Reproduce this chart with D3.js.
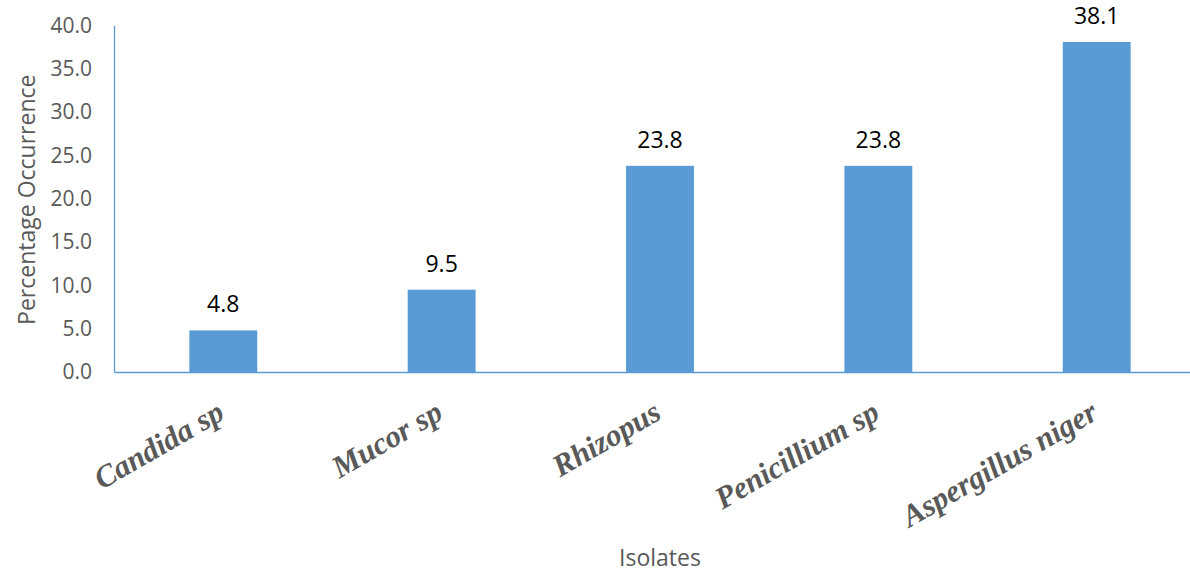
<!DOCTYPE html>
<html>
<head>
<meta charset="utf-8">
<script src="https://cdn.jsdelivr.net/npm/d3@7"></script>
<style>
  html, body { margin: 0; padding: 0; background: #fff; }
  svg { display: block; }
</style>
</head>
<body>
<svg id="chart" width="1190" height="574"></svg>
<script>
// Fungal isolates and their percentage occurrence
const isolates = ["Candida sp", "Mucor sp", "Rhizopus", "Penicillium sp", "Aspergillus niger"];
const occurrence = [4.8, 9.5, 23.8, 23.8, 38.1];
const yTicks = [0, 5, 10, 15, 20, 25, 30, 35, 40];

const svg = d3.select("#chart");
const plot = { left: 114, right: 1206, top: 25.5, bottom: 372 };

const x = d3.scaleBand().domain(isolates).range([plot.left, plot.right]).paddingInner(0.689).paddingOuter(0.345);
const y = d3.scaleLinear().domain([0, 40]).range([plot.bottom, plot.top]);

const axisColor = "#5B9BD5";
const tickColor = "#595959";
const sans = "'Open Sans', sans-serif";

// Bars
svg.append("g").selectAll("rect")
  .data(isolates)
  .join("rect")
  .attr("x", d => x(d))
  .attr("y", (d, i) => y(occurrence[i]))
  .attr("width", x.bandwidth())
  .attr("height", (d, i) => y(0) - y(occurrence[i]))
  .attr("fill", "#5B9BD5");

// Value labels
svg.append("g").selectAll("text")
  .data(isolates)
  .join("text")
  .attr("x", d => x(d) + x.bandwidth() / 2)
  .attr("y", (d, i) => y(occurrence[i]) - 18)
  .attr("text-anchor", "middle")
  .attr("font-family", sans)
  .attr("font-size", 23)
  .attr("fill", "#000")
  .text((d, i) => occurrence[i].toFixed(1));

// Y axis
const yAxis = d3.axisLeft(y).tickValues(yTicks).tickFormat(d3.format(".1f")).tickSize(0).tickPadding(22);
const gy = svg.append("g").attr("transform", `translate(${plot.left},0)`).call(yAxis);
gy.select(".domain").attr("stroke", axisColor).attr("stroke-width", 1.3);
gy.selectAll("text")
  .attr("font-family", sans)
  .attr("font-size", 21)
  .attr("fill", tickColor);

// X axis baseline
const xAxis = d3.axisBottom(x).tickSize(0).tickFormat("");
const gx = svg.append("g").attr("transform", `translate(0,${plot.bottom})`).call(xAxis);
gx.select(".domain").attr("stroke", axisColor).attr("stroke-width", 1.3);

// Rotated category labels
svg.append("g").selectAll("text")
  .data(isolates)
  .join("text")
  .attr("transform", d => `translate(${x(d) + x.bandwidth() / 2 + 3},${plot.bottom + 46}) rotate(-30)`)
  .attr("text-anchor", "end")
  .attr("font-family", "'Liberation Serif', 'Times New Roman', serif")
  .attr("font-weight", "bold")
  .attr("font-style", "italic")
  .attr("font-size", 31)
  .attr("fill", tickColor)
  .text(d => d);

// Axis titles
svg.append("text")
  .attr("transform", `translate(35,${(plot.top + plot.bottom) / 2 + 1}) rotate(-90)`)
  .attr("text-anchor", "middle")
  .attr("font-family", sans)
  .attr("font-size", 23)
  .attr("fill", tickColor)
  .text("Percentage Occurrence");

svg.append("text")
  .attr("x", 660)
  .attr("y", 566)
  .attr("text-anchor", "middle")
  .attr("font-family", sans)
  .attr("font-size", 23)
  .attr("fill", tickColor)
  .text("Isolates");
</script>
</body>
</html>
